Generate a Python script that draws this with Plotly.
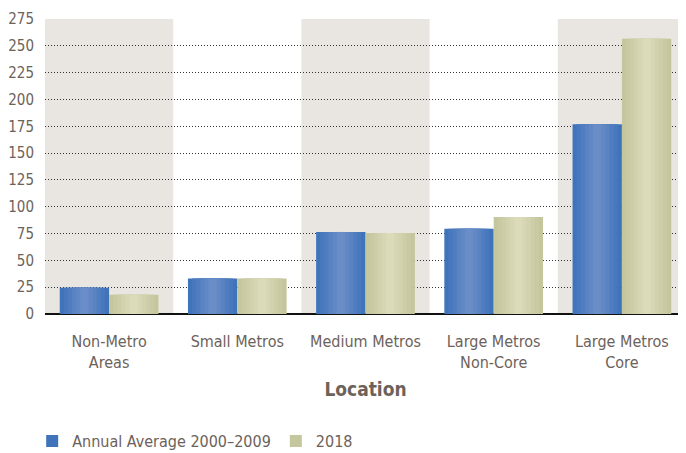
import plotly.graph_objects as go

categories = ["Non-Metro<br>Areas", "Small Metros", "Medium Metros",
              "Large Metros<br>Non-Core", "Large Metros<br>Core"]
avg_2000_2009 = [24.5, 33, 76.5, 79.5, 177]
values_2018 = [18, 33, 75.5, 90.5, 256.5]
y_ticks = [0, 25, 50, 75, 100, 125, 150, 175, 200, 225, 250, 275]

FONT = "DejaVu Sans Condensed, Liberation Sans Narrow, sans-serif"
TEXT = "#6d625a"
BAR_W = 0.385


def blend(c1, c2, t):
    a = [int(c1[i:i + 2], 16) for i in (1, 3, 5)]
    b = [int(c2[i:i + 2], 16) for i in (1, 3, 5)]
    return "#" + "".join(f"{round(x + (y - x) * t):02x}" for x, y in zip(a, b))


def gradient_bars(fig, y, offset, edge, mid, name):
    # base bar carries the legend entry, narrower lighter strips fake the gradient
    steps = 6
    for k in range(steps):
        frac = 1 - k / steps
        w = BAR_W * frac
        fig.add_trace(go.Bar(
            x=categories, y=y, name=name,
            width=w, offset=offset + (BAR_W - w) / 2,
            marker=dict(color=blend(edge, mid, k / (steps - 1)), line=dict(width=0)),
            showlegend=(k == 0), legendgroup=name,
            hovertemplate="%{x}: %{y}<extra>" + name + "</extra>",
        ))


fig = go.Figure()
gradient_bars(fig, avg_2000_2009, -BAR_W, "#3f73ba", "#6a8dc8", "Annual Average 2000–2009")
gradient_bars(fig, values_2018, 0, "#c4c69d", "#dbdab9", "2018")

for i in range(0, len(categories), 2):
    fig.add_shape(type="rect", xref="x", yref="paper", x0=i - 0.5, x1=i + 0.5,
                  y0=0, y1=1, fillcolor="#e9e6e1", line=dict(width=0), layer="below")

# page body has an 8px margin, so the figure is sized to fit inside it
fig.update_layout(
    width=678, height=445,
    barmode="overlay",
    plot_bgcolor="white", paper_bgcolor="white",
    margin=dict(l=37, r=0, t=11, b=139),
    font=dict(family=FONT, size=16, color=TEXT),
    legend=dict(orientation="h", xref="paper", x=-0.02, xanchor="left",
                yref="container", y=0.027, yanchor="middle",
                font=dict(size=16, color=TEXT), traceorder="normal"),
    showlegend=True,
)
fig.update_xaxes(
    range=[-0.5, 4.5], showgrid=False, ticks="", showline=False, automargin=False,
    title=dict(text="<b>Location</b>", font=dict(size=19, color=TEXT), standoff=11),
    tickfont=dict(size=16, color=TEXT), ticklabelstandoff=16,
)
fig.update_yaxes(
    range=[0, 275], tickvals=y_ticks, showline=False, automargin=False,
    gridcolor="#333333", griddash="1px,2px", gridwidth=1,
    zeroline=True, zerolinecolor="#111111", zerolinewidth=2,
    tickfont=dict(size=15, color=TEXT), ticks="", ticklabelstandoff=10,
)

fig.write_html("out.html")
